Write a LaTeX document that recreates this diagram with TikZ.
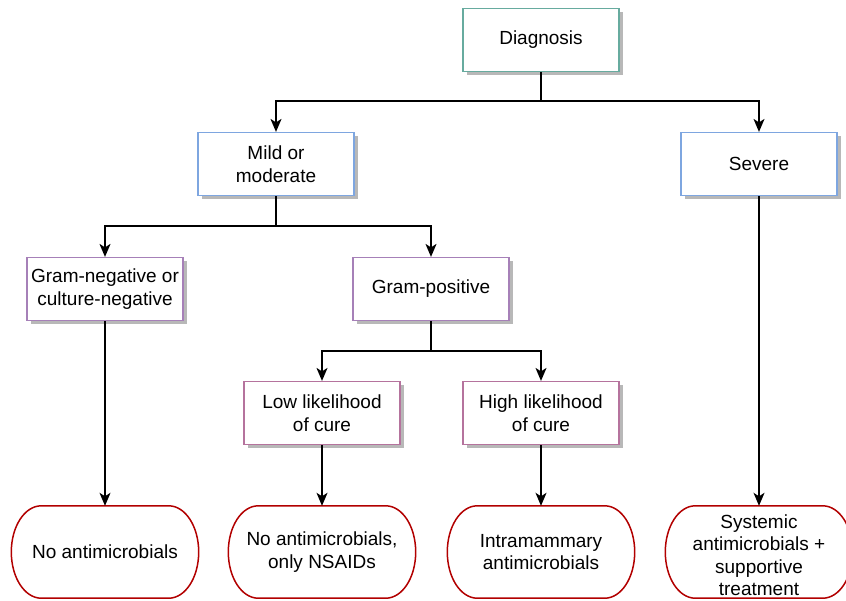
\documentclass[tikz,border=0pt]{standalone}
\usepackage{fontspec}
\setmainfont{Liberation Sans}
\usetikzlibrary{shadows,arrows.meta,backgrounds}
\definecolor{cteal}{HTML}{67AB9F}
\definecolor{cblue}{HTML}{7EA6E0}
\definecolor{cpurp}{HTML}{A680B8}
\definecolor{cpink}{HTML}{B5739D}
\definecolor{cred}{HTML}{B20000}
\tikzset{
  x=1pt, y=-1pt,
  txt/.style={align=center, inner sep=0pt, font=\fontsize{19}{22.5}\selectfont},
  box/.style={txt, draw, fill=white, line width=1.2pt, rectangle, minimum width=156pt, minimum height=63pt,
    drop shadow={shadow xshift=3.5pt, shadow yshift=-3.5pt, fill=black!28, opacity=1}},
  term/.style={txt, rectangle, minimum width=187pt, minimum height=92pt},
  conn/.style={line width=1.4pt, draw=black},
  arr/.style={conn, -{Stealth[length=13pt,width=11pt,inset=3.5pt]}}
}
\newcommand{\termpath}[1]{([xshift=30pt]#1.north west) -- ([xshift=-30pt]#1.north east)
  .. controls ([xshift=-13.4pt]#1.north east) and ([yshift=-20.6pt]#1.north east) .. (#1.east)
  .. controls ([yshift=20.6pt]#1.south east) and ([xshift=-13.4pt]#1.south east) .. ([xshift=-30pt]#1.south east)
  -- ([xshift=30pt]#1.south west)
  .. controls ([xshift=13.4pt]#1.south west) and ([yshift=20.6pt]#1.south west) .. (#1.west)
  .. controls ([yshift=-20.6pt]#1.north west) and ([xshift=13.4pt]#1.north west) .. ([xshift=30pt]#1.north west) -- cycle}
\newcommand{\termshape}[1]{%
  \begin{scope}[on background layer]
    \fill[black!28, xshift=3.5pt, yshift=-3.5pt] \termpath{#1};
    \filldraw[fill=white, draw=cred, line width=1.5pt] \termpath{#1};
  \end{scope}}
\begin{document}
\begin{tikzpicture}
\useasboundingbox (0,0) rectangle (846,600);
\node[box, draw=cteal] (diag) at (541,40) {Diagnosis};
\node[box, draw=cblue] (mild) at (276,164) {Mild or\\moderate};
\node[box, draw=cblue] (sev) at (759,164) {Severe};
\node[box, draw=cpurp] (gneg) at (105,289) {Gram-negative or\\culture-negative};
\node[box, draw=cpurp] (gpos) at (431,289) {Gram-positive};
\node[box, draw=cpink] (low) at (322,413) {Low likelihood\\of cure};
\node[box, draw=cpink] (high) at (541,413) {High likelihood\\of cure};
\node[term] (t1) at (105,552) {No antimicrobials};
\node[term] (t2) at (322,552) {No antimicrobials,\\only NSAIDs};
\node[term] (t3) at (541,552) {Intramammary\\antimicrobials};
\node[term] (t4) at (759,552) {};
\node[txt] (t4text) at (759,555) {Systemic\\antimicrobials +\\supportive\\treatment};
\termshape{t1}
\termshape{t2}
\termshape{t3}
\termshape{t4}
\coordinate (j1) at (541,101);
\coordinate (j2) at (276,226);
\coordinate (j3) at (431,351);
\draw[conn] (diag.south) -- (j1);
\draw[arr] (j1) -| (mild.north);
\draw[arr] (j1) -| (sev.north);
\draw[conn] (mild.south) -- (j2);
\draw[arr] (j2) -| (gneg.north);
\draw[arr] (j2) -| (gpos.north);
\draw[conn] (gpos.south) -- (j3);
\draw[arr] (j3) -| (low.north);
\draw[arr] (j3) -| (high.north);
\draw[arr] (gneg.south) -- (t1.north);
\draw[arr] (low.south) -- (t2.north);
\draw[arr] (high.south) -- (t3.north);
\draw[arr] (sev.south) -- (t4.north);
\end{tikzpicture}
\end{document}
